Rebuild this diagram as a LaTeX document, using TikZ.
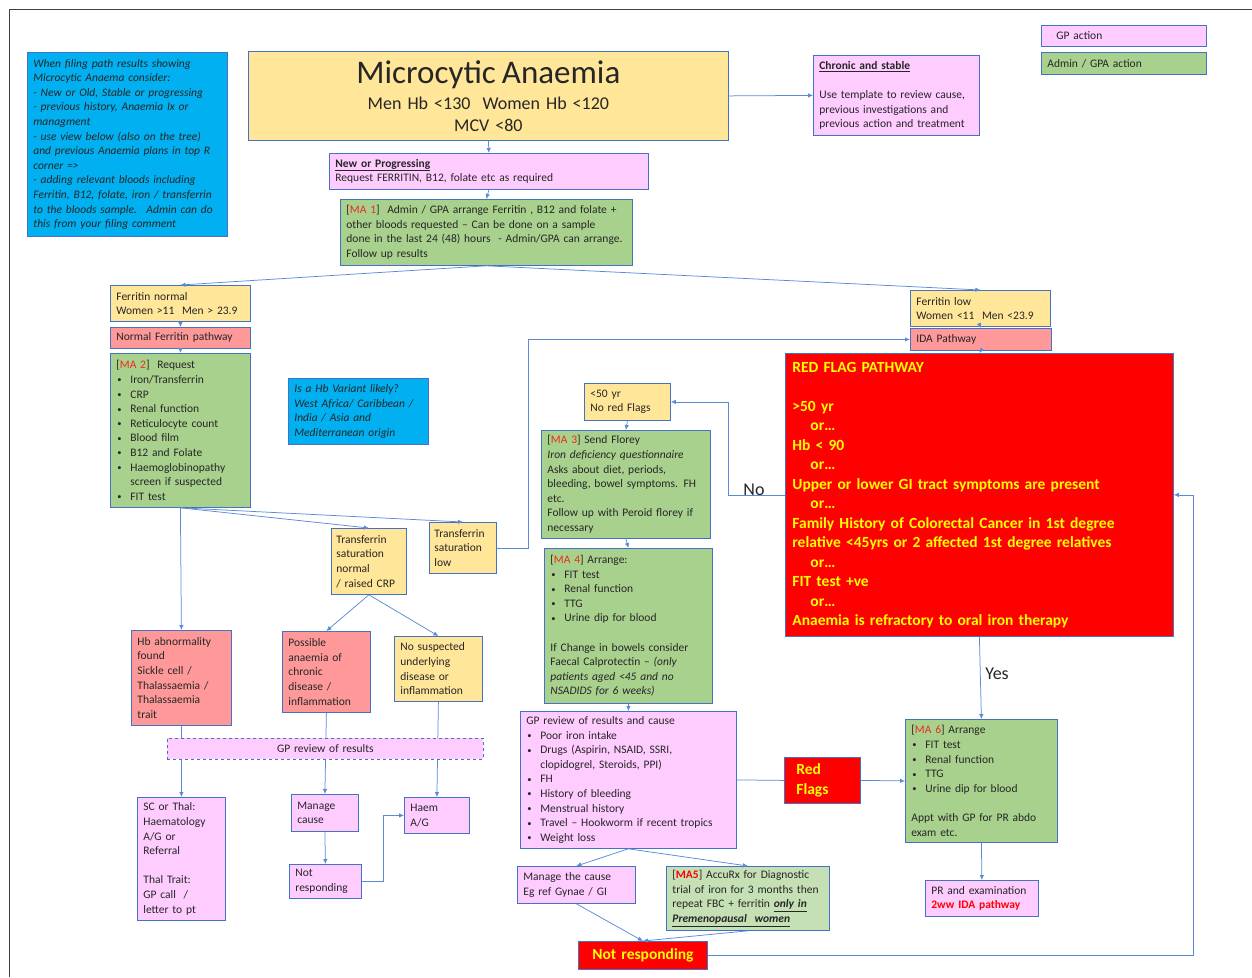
\documentclass[tikz,border=0pt]{standalone}
\usepackage{fontspec}
\setmainfont{Carlito}
\usetikzlibrary{arrows.meta,positioning}
\definecolor{bord}{HTML}{4472C4}
\definecolor{conncol}{HTML}{5B8AD6}
\definecolor{gpcol}{HTML}{FFCCFF}
\definecolor{admcol}{HTML}{A9D18E}
\definecolor{trialcol}{HTML}{C5E0B4}
\definecolor{rescol}{HTML}{FFE699}
\definecolor{pathcol}{HTML}{FF9999}
\definecolor{notecol}{HTML}{00B0F0}
\definecolor{flagtext}{HTML}{FFFF00}
\definecolor{macol}{HTML}{F0281E}
\definecolor{inkcol}{HTML}{262626}
\newcommand{\matag}[1]{[{\color{macol}#1}]}
\newcommand{\bitem}[1]{\makebox[14pt][l]{\hspace*{1pt}\raisebox{0.6pt}{\fontsize{8.5}{8}\selectfont\textbullet}}#1}
\newcommand{\orgap}{\hspace*{18pt}or…}

\begin{document}
\begin{tikzpicture}[
        x=1pt, y=-1pt,
        >={Latex[length=5pt,width=4.5pt]},
        box/.style={draw=bord, line width=0.8pt, anchor=north west, align=left,
            inner xsep=6pt, inner ysep=2pt, text=inkcol,
            font=\fontsize{11.5}{14.6}\selectfont},
        gpbox/.style={box, fill=gpcol},
        adminbox/.style={box, fill=admcol},
        resultbox/.style={box, fill=rescol},
        pathwaybox/.style={box, fill=pathcol},
        notebox/.style={box, fill=notecol, font=\fontsize{11.5}{14.6}\selectfont\itshape},
        flagbox/.style={box, fill=red, text=flagtext, font=\fontsize{15.5}{19.5}\selectfont\bfseries},
        conn/.style={draw=conncol, line width=0.75pt},
        answer/.style={font=\fontsize{18}{20}\selectfont, text=inkcol}
    ]
    \useasboundingbox (0,0) rectangle (1252,977);
    \draw[line width=0.8pt, black!75] (9,977) -- (9,9) -- (1252,9);

    % notes and legend
    \node[notebox, text width=188pt, minimum height=184pt] (filing) at (27,52)
        {When filing path results showing\\ Microcytic Anaema consider:\\
         - New or Old, Stable or progressing\\ - previous history, Anaemia Ix or\\
         managment\\ - use view below (also on the tree)\\
         and previous Anaemia plans in top R\\ corner =>\\
         - adding relevant bloods including\\ Ferritin, B12, folate, iron / transferrin\\
         to the bloods sample.~ Admin can do\\ this from your filing comment};
    \node[gpbox, text width=153pt, minimum height=21pt] (leggp) at (1041,25) {\hspace*{9pt}GP action};
    \node[adminbox, text width=153pt, minimum height=22pt] (legadmin) at (1041,52) {Admin / GPA action};

    % top of the tree
    \node[resultbox, align=center, text width=468pt, minimum height=89pt,
          font=\fontsize{18}{22}\selectfont] (title) at (248,51)
        {{\fontsize{33}{36}\selectfont Microcytic Anaemia}\\[4pt]
         Men Hb <130~~Women Hb <120\\ MCV <80};
    \node[gpbox, text width=154pt, minimum height=80pt] (chronic) at (813,55)
        {\underline{\textbf{Chronic and stable}}\\[14.6pt]
         Use template to review cause,\\ previous investigations and\\ previous action and treatment};
    \node[gpbox, text width=307pt, minimum height=36pt] (newprog) at (329,153)
        {\underline{\textbf{New or Progressing}}\\ Request FERRITIN, B12, folate etc as required};
    \node[adminbox, text width=280pt, minimum height=66pt] (ma1) at (340,199)
        {\matag{MA 1}~ Admin / GPA arrange Ferritin , B12 and folate +\\
         other bloods requested -- Can be done on a sample\\
         done in the last 24 (48) hours~ - Admin/GPA can arrange.\\ Follow up results};

    % normal ferritin branch
    \node[resultbox, text width=128pt, minimum height=36pt] (fernorm) at (110,285)
        {Ferritin normal\\ Women >11~ Men > 23.9};
    \node[pathwaybox, text width=128pt, minimum height=21pt] (normpath) at (110,327) {Normal Ferritin pathway};
    \node[adminbox, text width=128pt, minimum height=154pt] (ma2) at (110,353)
        {\matag{MA 2}~ Request\\ \bitem{Iron/Transferrin}\\ \bitem{CRP}\\ \bitem{Renal function}\\
         \bitem{Reticulocyte count}\\ \bitem{Blood film}\\ \bitem{B12 and Folate}\\
         \bitem{Haemoglobinopathy}\\ \hspace*{14pt}screen if suspected\\ \bitem{FIT test}};
    \node[notebox, text width=128pt, minimum height=66pt] (hbvar) at (288,378)
        {Is a Hb Variant likely?\\ West Africa/ Caribbean /\\ India / Asia and\\ Mediterranean origin};
    \node[resultbox, inner xsep=5pt, text width=65pt, minimum height=66pt] (tsatnorm) at (331,528)
        {Transferrin\\ saturation\\ normal\\ / raised CRP};
    \node[resultbox, inner xsep=5pt, text width=57pt, minimum height=51pt] (tsatlow) at (429,522)
        {Transferrin\\ saturation\\ low};
    \node[pathwaybox, text width=88pt, minimum height=95pt] (hbabn) at (131,630)
        {Hb abnormality\\ found\\ Sickle cell /\\ Thalassaemia /\\ Thalassaemia\\ trait};
    \node[pathwaybox, text width=76pt, minimum height=81pt] (chrdis) at (282,631)
        {Possible\\ anaemia of\\ chronic\\ disease /\\ inflammation};
    \node[resultbox, text width=76pt, minimum height=65pt] (nosusp) at (394,636)
        {No suspected\\ underlying\\ disease or\\ inflammation};
    \node[gpbox, text width=76pt, minimum height=123pt] (scthal) at (137,797)
        {SC or Thal:\\ Haematology\\ A/G or\\ Referral\\[14.6pt] Thal Trait:\\ GP call~ /\\ letter to pt};
    \node[gpbox, text width=55pt, minimum height=37pt] (managecause) at (291,794) {Manage\\ cause};
    \node[gpbox, text width=60pt, minimum height=34pt] (notresp) at (289,864) {Not\\ responding};
    \node[gpbox, text width=53pt, minimum height=36pt] (haemag) at (404,797) {Haem\\ A/G};

    % low ferritin branch
    \node[resultbox, text width=128pt, minimum height=36pt] (ferlow) at (910,290)
        {Ferritin low\\ Women <11~ Men <23.9};
    \node[pathwaybox, text width=129pt, minimum height=22pt] (idapath) at (910,328) {IDA Pathway};
    \node[flagbox, inner xsep=7pt, text width=374pt, minimum height=283pt] (redflag) at (785,353)
        {RED FLAG PATHWAY\\[19.5pt] >50 yr\\ \orgap\\ Hb < 90\\ \orgap\\
         Upper or lower GI tract symptoms are present\\ \orgap\\
         Family History of Colorectal Cancer in 1st degree\\
         relative <45yrs or 2 affected 1st degree relatives\\ \orgap\\
         FIT test +ve\\ \orgap\\ Anaemia is refractory to oral iron therapy};
    \node[resultbox, text width=74pt, minimum height=37pt] (under50) at (584,383) {<50 yr\\ No red Flags};
    \node[adminbox, text width=157pt, minimum height=108pt] (ma3) at (541,430)
        {\matag{MA 3} Send Florey\\ \textit{Iron deficiency questionnaire}\\
         Asks about diet, periods,\\ bleeding, bowel symptoms. FH\\ etc.\\
         Follow up with Peroid florey if\\ necessary};
    \node[adminbox, text width=156pt, minimum height=155pt] (ma4) at (544,548)
        {\matag{MA 4} Arrange:\\ \bitem{FIT test}\\ \bitem{Renal function}\\ \bitem{TTG}\\
         \bitem{Urine dip for blood}\\[14.6pt] If Change in bowels consider\\
         Faecal Calprotectin -- \textit{(only}\\ \textit{patients aged <45 and no}\\
         \textit{NSADIDS for 6 weeks)}};
    \node[gpbox, text width=204pt, minimum height=137pt] (gpcause) at (520,711)
        {GP review of results and cause\\ \bitem{Poor iron intake}\\
         \bitem{Drugs (Aspirin, NSAID, SSRI,}\\ \hspace*{14pt}clopidogrel, Steroids, PPI)\\
         \bitem{FH}\\ \bitem{History of bleeding}\\ \bitem{Menstrual history}\\
         \bitem{Travel -- Hookworm if recent tropics}\\ \bitem{Weight loss}};
    \node[flagbox, inner xsep=12pt, text width=52pt, minimum height=46pt] (redflags) at (784,757) {Red\\ Flags};
    \node[adminbox, text width=140pt, minimum height=123pt] (ma6) at (905,719)
        {\matag{MA 6} Arrange\\ \bitem{FIT test}\\ \bitem{Renal function}\\ \bitem{TTG}\\
         \bitem{Urine dip for blood}\\[14.6pt] Appt with GP for PR abdo\\ exam etc.};
    \node[gpbox, text width=101pt, minimum height=36pt] (prexam) at (925,880)
        {PR and examination\\ {\color{red}\textbf{2ww IDA pathway}}};
    \node[gpbox, text width=106pt, minimum height=37pt] (manageeg) at (517,866)
        {Manage the cause\\ Eg ref Gynae / GI};
    \node[box, fill=trialcol, text width=151pt, minimum height=64pt] (ma5) at (666,866)
        {[\textbf{\color{red}MA5}] AccuRx for Diagnostic\\ trial of iron for 3 months then\\
         repeat FBC + ferritin \underline{\textbf{\textit{only in}}}\\
         \underline{\textbf{\textit{Premenopausal~ women}}}};
    \node[flagbox, align=center, text width=117pt, minimum height=28pt] (notresponding) at (578,941) {Not responding};

    \node[answer] (lblno) at (754,490) {No};
    \node[answer] (lblyes) at (997,674) {Yes};

    % connectors
    \draw[conn,->] (title.east) -- (chronic.west);
    \draw[conn,->] (title.south) -- (newprog.north);
    \draw[conn,->] (newprog.south) -- (ma1.north);
    \draw[conn,->] (ma1.south) -- (fernorm.north);
    \draw[conn,->] (ma1.south) -- (ferlow.north);
    \draw[conn,->] (fernorm.south) -- (normpath.north);
    \draw[conn,->] (normpath.south) -- (ma2.north);
    \draw[conn,->] (ma2.south) -- (hbabn.north);
    \draw[conn,->] (ma2.south) -- (tsatnorm.north);
    \draw[conn,->] (ma2.south) -- (tsatlow.north);
    \draw[conn,->] (tsatnorm.south) -- (chrdis.north);
    \draw[conn,->] (tsatnorm.south) -- (nosusp.north);
    \draw[conn,->] (tsatlow.east) -- ++(32,0) |- (idapath.west);
    \draw[conn,->] (hbabn.south) -- (scthal.north);
    \draw[conn,->] (chrdis.south) -- (managecause.north);
    \draw[conn,->] (nosusp.south) -- (haemag.north);
    \draw[conn,->] (managecause.south) -- (notresp.north);
    \draw[conn,->] (notresp.east) -- ++(22,0) |- (haemag.west);
    \draw[conn,->] (ferlow.south) -- (idapath.north);
    \draw[conn,->] (idapath.south) -- (redflag.north);
    \draw[conn,->] (redflag.west) -- ++(-57,0) |- (under50.east);
    \draw[conn,->] (under50.south) -- (ma3.north);
    \draw[conn,->] (ma3.south) -- (ma4.north);
    \draw[conn,->] (ma4.south) -- (gpcause.north);
    \draw[conn,->] (redflag.south) -- (ma6.north);
    \draw[conn] (gpcause.east) -- (redflags.west);
    \draw[conn,->] (redflags.east) -- (ma6.west);
    \draw[conn,->] (ma6.south) -- (prexam.north);
    \draw[conn,->] (gpcause.south) -- (manageeg.north);
    \draw[conn,->] (gpcause.south) -- (ma5.north);
    \draw[conn,->] (manageeg.south) -- (notresponding.north);
    \draw[conn,->] (ma5.south) -- (notresponding.north);
    \draw[conn,->] (notresponding.east) -- ++(486,0) |- (redflag.east);

    % dashed band drawn last so it sits over the lines
    \node[gpbox, dashed, align=center, text width=304pt, minimum height=21pt] (gpreview) at (167,738)
        {GP review of results};
\end{tikzpicture}
\end{document}
